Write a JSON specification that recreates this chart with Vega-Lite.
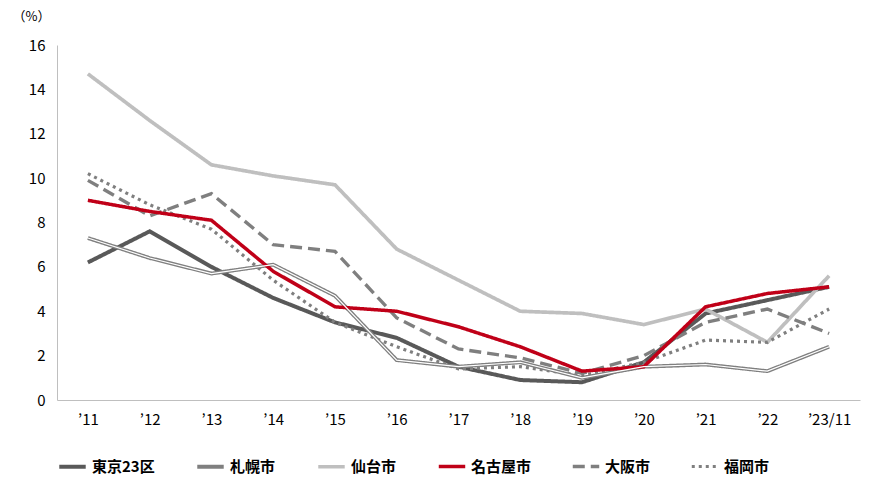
{
  "$schema": "https://vega.github.io/schema/vega-lite/v6.json",
  "width": 870,
  "height": 480,
  "autosize": {"type": "fit", "contains": "padding"},
  "padding": {"left": 12, "right": 10, "top": 10, "bottom": 5},
  "config": {
    "font": "Noto Sans CJK JP",
    "view": {"stroke": null},
    "axis": {"grid": false, "labelFontSize": 15, "labelColor": "#000", "domainColor": "#bfbfbf", "tickColor": "#bfbfbf"}
  },
  "data": {
    "values": [
      {"year": "’11", "city": "東京23区", "v": 6.2}, {"year": "’12", "city": "東京23区", "v": 7.6}, {"year": "’13", "city": "東京23区", "v": 6.0}, {"year": "’14", "city": "東京23区", "v": 4.6}, {"year": "’15", "city": "東京23区", "v": 3.5}, {"year": "’16", "city": "東京23区", "v": 2.8}, {"year": "’17", "city": "東京23区", "v": 1.5}, {"year": "’18", "city": "東京23区", "v": 0.9}, {"year": "’19", "city": "東京23区", "v": 0.8}, {"year": "’20", "city": "東京23区", "v": 1.7}, {"year": "’21", "city": "東京23区", "v": 3.9}, {"year": "’22", "city": "東京23区", "v": 4.5}, {"year": "’23/11", "city": "東京23区", "v": 5.1},
      {"year": "’11", "city": "札幌市", "v": 7.3}, {"year": "’12", "city": "札幌市", "v": 6.4}, {"year": "’13", "city": "札幌市", "v": 5.7}, {"year": "’14", "city": "札幌市", "v": 6.1}, {"year": "’15", "city": "札幌市", "v": 4.7}, {"year": "’16", "city": "札幌市", "v": 1.8}, {"year": "’17", "city": "札幌市", "v": 1.5}, {"year": "’18", "city": "札幌市", "v": 1.7}, {"year": "’19", "city": "札幌市", "v": 1.0}, {"year": "’20", "city": "札幌市", "v": 1.5}, {"year": "’21", "city": "札幌市", "v": 1.6}, {"year": "’22", "city": "札幌市", "v": 1.3}, {"year": "’23/11", "city": "札幌市", "v": 2.4},
      {"year": "’11", "city": "仙台市", "v": 14.7}, {"year": "’12", "city": "仙台市", "v": 12.6}, {"year": "’13", "city": "仙台市", "v": 10.6}, {"year": "’14", "city": "仙台市", "v": 10.1}, {"year": "’15", "city": "仙台市", "v": 9.7}, {"year": "’16", "city": "仙台市", "v": 6.8}, {"year": "’17", "city": "仙台市", "v": 5.4}, {"year": "’18", "city": "仙台市", "v": 4.0}, {"year": "’19", "city": "仙台市", "v": 3.9}, {"year": "’20", "city": "仙台市", "v": 3.4}, {"year": "’21", "city": "仙台市", "v": 4.1}, {"year": "’22", "city": "仙台市", "v": 2.6}, {"year": "’23/11", "city": "仙台市", "v": 5.6},
      {"year": "’11", "city": "大阪市", "v": 9.9}, {"year": "’12", "city": "大阪市", "v": 8.3}, {"year": "’13", "city": "大阪市", "v": 9.3}, {"year": "’14", "city": "大阪市", "v": 7.0}, {"year": "’15", "city": "大阪市", "v": 6.7}, {"year": "’16", "city": "大阪市", "v": 3.7}, {"year": "’17", "city": "大阪市", "v": 2.3}, {"year": "’18", "city": "大阪市", "v": 1.9}, {"year": "’19", "city": "大阪市", "v": 1.2}, {"year": "’20", "city": "大阪市", "v": 2.0}, {"year": "’21", "city": "大阪市", "v": 3.5}, {"year": "’22", "city": "大阪市", "v": 4.1}, {"year": "’23/11", "city": "大阪市", "v": 3.0},
      {"year": "’11", "city": "福岡市", "v": 10.2}, {"year": "’12", "city": "福岡市", "v": 8.8}, {"year": "’13", "city": "福岡市", "v": 7.7}, {"year": "’14", "city": "福岡市", "v": 5.4}, {"year": "’15", "city": "福岡市", "v": 3.5}, {"year": "’16", "city": "福岡市", "v": 2.4}, {"year": "’17", "city": "福岡市", "v": 1.4}, {"year": "’18", "city": "福岡市", "v": 1.5}, {"year": "’19", "city": "福岡市", "v": 1.1}, {"year": "’20", "city": "福岡市", "v": 1.7}, {"year": "’21", "city": "福岡市", "v": 2.7}, {"year": "’22", "city": "福岡市", "v": 2.6}, {"year": "’23/11", "city": "福岡市", "v": 4.1},
      {"year": "’11", "city": "名古屋市", "v": 9.0}, {"year": "’12", "city": "名古屋市", "v": 8.5}, {"year": "’13", "city": "名古屋市", "v": 8.1}, {"year": "’14", "city": "名古屋市", "v": 5.8}, {"year": "’15", "city": "名古屋市", "v": 4.2}, {"year": "’16", "city": "名古屋市", "v": 4.0}, {"year": "’17", "city": "名古屋市", "v": 3.3}, {"year": "’18", "city": "名古屋市", "v": 2.4}, {"year": "’19", "city": "名古屋市", "v": 1.3}, {"year": "’20", "city": "名古屋市", "v": 1.5}, {"year": "’21", "city": "名古屋市", "v": 4.2}, {"year": "’22", "city": "名古屋市", "v": 4.8}, {"year": "’23/11", "city": "名古屋市", "v": 5.1}
    ]
  },
  "encoding": {
    "x": {"field": "year", "type": "ordinal", "sort": null, "title": null,
      "scale": {"paddingOuter": 0.5}, "axis": {"labelAngle": 0, "ticks": false, "labelPadding": 12}},
    "y": {"field": "v", "type": "quantitative", "title": "（%）",
      "scale": {"domain": [0, 16]},
      "axis": {"tickCount": 8, "ticks": false, "labelPadding": 12, "titleAngle": 0, "titleAlign": "left", "titleAnchor": "end", "titleX": -45, "titleY": -22, "titleFontSize": 13, "titleFontWeight": "normal"}}
  },
  "layer": [
    {
      "mark": {"type": "line"},
      "encoding": {
        "detail": {"field": "city"},
        "color": {"field": "city", "type": "nominal",
          "scale": {"domain": ["東京23区", "札幌市", "仙台市", "名古屋市", "大阪市", "福岡市"],
            "range": ["#595959", "#7f7f7f", "#bfbfbf", "#c00018", "#7f7f7f", "#7f7f7f"]},
          "legend": {"orient": "bottom", "title": null, "symbolType": "stroke", "symbolSize": 700, "labelFontSize": 15, "labelFontWeight": "bold", "columnPadding": 34, "offset": 24, "direction": "horizontal"}},
        "strokeDash": {"field": "city", "type": "nominal",
          "scale": {"domain": ["東京23区", "札幌市", "仙台市", "名古屋市", "大阪市", "福岡市"],
            "range": [[1, 0], [1, 0], [1, 0], [1, 0], [12, 6], [3, 4]]}},
        "strokeWidth": {"field": "city", "type": "nominal",
          "scale": {"domain": ["東京23区", "札幌市", "仙台市", "名古屋市", "大阪市", "福岡市"],
            "range": [4, 3.2, 4, 5, 3.5, 3.5]}}
      }
    },
    {
      "transform": [{"filter": "datum.city == '札幌市'"}],
      "mark": {"type": "line", "color": "white", "strokeWidth": 1.2},
      "encoding": {}
    }
  ]
}
